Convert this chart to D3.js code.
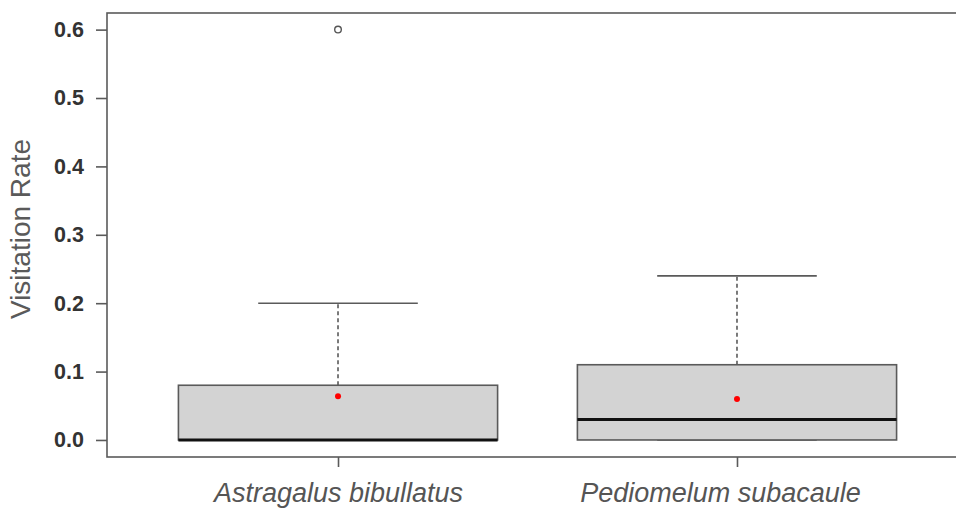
<!DOCTYPE html>
<html>
<head>
<meta charset="utf-8">
<script src="https://cdn.jsdelivr.net/npm/d3@7"></script>
<style>
  html, body { margin: 0; padding: 0; background: #fff; }
  svg { display: block; }
</style>
</head>
<body>
<svg id="chart" width="956" height="510"></svg>
<script>
// Visitation rate by plant species: box summaries
const categories = ["Astragalus bibullatus", "Pediomelum subacaule"];
const lowerWhisker = [0, 0];
const q1 = [0, 0];
const median = [0, 0.03];
const q3 = [0.08, 0.11];
const upperWhisker = [0.2, 0.24];
const means = [0.064, 0.06];
const outliers = [[0.6], []];
const yTicks = [0.0, 0.1, 0.2, 0.3, 0.4, 0.5, 0.6];

const svg = d3.select("#chart");
const plot = { left: 107, top: 13, right: 968, bottom: 457 };
const font = "Arial, 'Liberation Sans', sans-serif";

const x = d3.scaleLinear()
  .domain([0.421, 2.579])
  .range([plot.left, plot.right]);
const y = d3.scaleLinear()
  .domain([-0.0249, 0.6243])
  .range([plot.bottom, plot.top]);

const boxHalf = 0.4;   // box width 0.8 units
const capHalf = 0.2;   // whisker cap half width
const frameColor = "#5a5a5a";
const labelShift = [0, -17]; // horizontal nudge for category labels

// frame
svg.append("rect")
  .attr("x", plot.left).attr("y", plot.top)
  .attr("width", plot.right - plot.left).attr("height", plot.bottom - plot.top)
  .attr("fill", "none").attr("stroke", frameColor).attr("stroke-width", 1.6);

// y axis
const yAxis = d3.axisLeft(y).tickValues(yTicks).tickFormat(d3.format(".1f"))
  .tickSize(11).tickPadding(12);
const gy = svg.append("g").attr("transform", `translate(${plot.left},0)`).call(yAxis);
gy.select(".domain").remove();
gy.selectAll(".tick line").attr("stroke", frameColor).attr("stroke-width", 1.6);
gy.selectAll(".tick text")
  .attr("fill", "#333").attr("font-family", font)
  .attr("font-size", 21.5).attr("font-weight", "bold");

// x axis
const idx = categories.map((c, i) => i + 1);
const xAxis = d3.axisBottom(x).tickValues(idx).tickFormat(i => categories[i - 1])
  .tickSize(10).tickPadding(16);
const gx = svg.append("g").attr("transform", `translate(0,${plot.bottom})`).call(xAxis);
gx.select(".domain").remove();
gx.selectAll(".tick line").attr("stroke", frameColor).attr("stroke-width", 1.6);
gx.selectAll(".tick text")
  .attr("fill", "#555").attr("font-family", font)
  .attr("font-size", 27).attr("font-style", "italic")
  .attr("dx", (d, i) => labelShift[i]);

// y axis title
svg.append("text")
  .attr("transform", `translate(30,${229}) rotate(-90)`)
  .attr("text-anchor", "middle")
  .attr("fill", "#5a5a5a")
  .attr("font-family", font)
  .attr("font-size", 28)
  .text("Visitation Rate");

// boxes
categories.forEach((c, i) => {
  const cx = i + 1;
  const g = svg.append("g");
  // whiskers (dashed)
  g.append("line")
    .attr("x1", x(cx)).attr("x2", x(cx))
    .attr("y1", y(q3[i])).attr("y2", y(upperWhisker[i]))
    .attr("stroke", frameColor).attr("stroke-width", 1.6).attr("stroke-dasharray", "4,3");
  g.append("line")
    .attr("x1", x(cx)).attr("x2", x(cx))
    .attr("y1", y(q1[i])).attr("y2", y(lowerWhisker[i]))
    .attr("stroke", frameColor).attr("stroke-width", 1.6).attr("stroke-dasharray", "4,3");
  // caps
  [upperWhisker[i], lowerWhisker[i]].forEach(v => {
    g.append("line")
      .attr("x1", x(cx - capHalf)).attr("x2", x(cx + capHalf))
      .attr("y1", y(v)).attr("y2", y(v))
      .attr("stroke", frameColor).attr("stroke-width", 1.6);
  });
  // box
  g.append("rect")
    .attr("x", x(cx - boxHalf)).attr("y", y(q3[i]))
    .attr("width", x(cx + boxHalf) - x(cx - boxHalf))
    .attr("height", y(q1[i]) - y(q3[i]))
    .attr("fill", "#d3d3d3").attr("stroke", frameColor).attr("stroke-width", 1.6);
  // median
  g.append("line")
    .attr("x1", x(cx - boxHalf)).attr("x2", x(cx + boxHalf))
    .attr("y1", y(median[i])).attr("y2", y(median[i]))
    .attr("stroke", "#111").attr("stroke-width", 3);
  // outliers
  outliers[i].forEach(v => {
    g.append("circle")
      .attr("cx", x(cx)).attr("cy", y(v)).attr("r", 3.3)
      .attr("fill", "none").attr("stroke", "#555").attr("stroke-width", 1.4);
  });
  // mean
  g.append("circle")
    .attr("cx", x(cx)).attr("cy", y(means[i])).attr("r", 3)
    .attr("fill", "#f00");
});
</script>
</body>
</html>
